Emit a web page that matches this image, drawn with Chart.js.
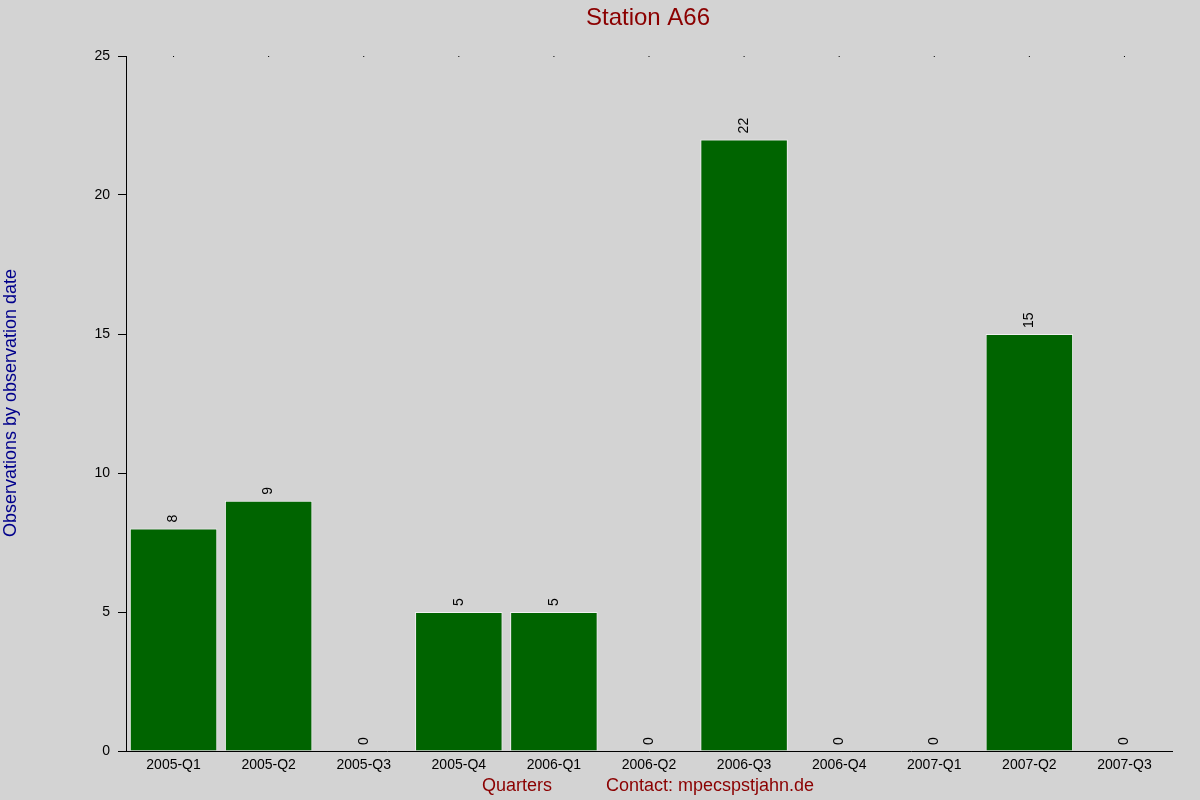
<!DOCTYPE html>
<html>
<head>
<meta charset="utf-8">
<script src="https://cdn.jsdelivr.net/npm/chart.js@4"></script>
<style>
  body { margin: 0; background: #d3d3d3; }
</style>
</head>
<body>
<canvas id="chart" width="1200" height="800"></canvas>
<script>
/* data */
const quarters = ["2005-Q1", "2005-Q2", "2005-Q3", "2005-Q4", "2006-Q1", "2006-Q2",
  "2006-Q3", "2006-Q4", "2007-Q1", "2007-Q2", "2007-Q3"];
const observations = [8, 9, 0, 5, 5, 0, 22, 0, 0, 15, 0];
const yTicks = [0, 5, 10, 15, 20, 25];

const FONT = "Arial, 'Liberation Sans', sans-serif";

// titles, value labels and the little marks on top
const extras = {
  id: "extras",
  afterDatasetsDraw(chart) {
    const c = chart.ctx;
    const x = chart.scales.x, y = chart.scales.y;
    c.save();
    c.fillStyle = "#8b0000";
    c.font = "24px " + FONT;
    c.textAlign = "center";
    c.textBaseline = "middle";
    c.fillText("Station A66", 648, 18);
    c.font = "18px " + FONT;
    c.fillText("Quarters", 517, 786);
    c.fillText("Contact: mpecspstjahn.de", 710, 786);
    c.fillStyle = "#00008b";
    c.translate(11, 403);
    c.rotate(-Math.PI / 2);
    c.fillText("Observations by observation date", 0, 0);
    c.restore();

    c.save();
    c.fillStyle = "#000";
    c.font = "14px " + FONT;
    observations.forEach((v, i) => {
      const px = x.getPixelForValue(i), py = y.getPixelForValue(v);
      c.save();
      c.translate(px, py - 6);
      c.rotate(-Math.PI / 2);
      c.textAlign = "left";
      c.textBaseline = "middle";
      c.fillText(String(v), 0, 0);
      c.restore();
      c.fillRect(px - 0.5, y.getPixelForValue(25), 1, 1);
    });
    c.restore();
  }
};

new Chart(document.getElementById("chart"), {
  type: "bar",
  data: {
    labels: quarters,
    datasets: [{
      data: observations,
      backgroundColor: "#006400",
      borderColor: "#f0f0f0",
      borderWidth: 1,
      barPercentage: 0.92,
      categoryPercentage: 1
    }]
  },
  options: {
    responsive: false,
    animation: false,
    devicePixelRatio: 1,
    layout: { padding: { top: 56, right: 28, left: 0, bottom: 0 } },
    plugins: { legend: { display: false }, tooltip: { enabled: false } },
    scales: {
      x: {
        grid: { display: false, drawTicks: false },
        border: { color: "#000", width: 1 },
        ticks: { color: "#000", font: { size: 14, family: FONT }, padding: 6, maxRotation: 0 },
        afterFit(s) { s.height = 49; }
      },
      y: {
        min: 0, max: 25,
        afterBuildTicks(s) { s.ticks = yTicks.map(v => ({ value: v })); },
        grid: { drawOnChartArea: false, drawTicks: true, tickLength: 8, tickColor: "#000" },
        border: { color: "#000", width: 1 },
        ticks: { color: "#000", font: { size: 14, family: FONT }, padding: 8 },
        afterFit(s) { s.width = 126; }
      }
    }
  },
  plugins: [extras]
});
</script>
</body>
</html>
